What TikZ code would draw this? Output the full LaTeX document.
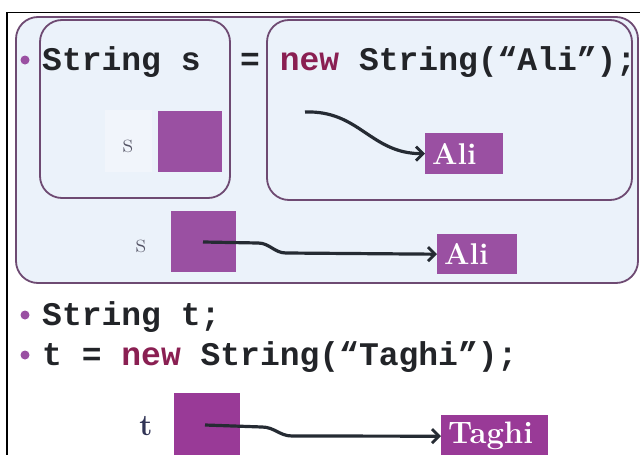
\documentclass[tikz,border=0pt]{standalone}
\usepackage{fontspec}
\setmonofont{Liberation Mono}
\usetikzlibrary{arrows.meta}

\definecolor{panelfill}{HTML}{EBF2FA}
\definecolor{panelline}{HTML}{6E4A72}
\definecolor{cellpurple}{HTML}{9A50A2}
\definecolor{cellmagenta}{HTML}{993A97}
\definecolor{kwcolor}{HTML}{8A1F52}
\definecolor{codeink}{HTML}{222428}
\definecolor{arrowink}{HTML}{252B33}
\definecolor{labelgray}{HTML}{555566}
\definecolor{labelnavy}{HTML}{303355}

\begin{document}
\begin{tikzpicture}[x=1pt,y=-1pt,
  panel/.style={draw=panelline, line width=1.8pt, fill=panelfill, rounded corners=22pt},
  code/.style={anchor=base west, inner sep=0pt, text=codeink,
    font=\ttfamily\bfseries\fontsize{33}{40}\selectfont},
  dot/.style={circle, fill=cellpurple, inner sep=0pt, minimum size=9pt},
  refcell/.style={fill=cellpurple, inner sep=0pt},
  strcell/.style={fill=cellpurple, inner sep=7pt, align=left, text=white,
    font=\bfseries\fontsize{30}{34}\selectfont, anchor=north west},
  varlabel/.style={inner sep=0pt, font=\fontsize{28}{32}\selectfont},
  ptr/.style={draw=arrowink, line width=3.2pt, -{Straight Barb[length=7pt,width=14pt,line width=2.8pt]}}
]
\useasboundingbox (0,0) rectangle (640,455);
\fill[white] (0,0) rectangle (640,455);

% window frame
\draw[black, line width=1.4pt] (7,455) -- (7,12.5) -- (640,12.5);

% scope panels
\draw[panel] (16,17) rectangle (638,283);
\draw[panel] (40,20) rectangle (230,198);
\draw[panel] (267,20) rectangle (632,200);

% code lines
\node[dot] (b1) at (25,60) {};
\node[code] (line1) at (42,70) {String~s~~=~\textcolor{kwcolor}{new}~String(“Ali”);};
\node[dot] (b2) at (25,315) {};
\node[code] (line2) at (42,325) {String~t;};
\node[dot] (b3) at (25,355) {};
\node[code] (line3) at (42,365) {t~=~\textcolor{kwcolor}{new}~String(“Taghi”);};

% first snapshot: declaration and separate object
\fill[white, opacity=0.3] (105,110) rectangle (152,172);
\node[varlabel, text=labelgray] (s1) at (128,146) {s};
\node[refcell, minimum width=64pt, minimum height=61pt, anchor=north west] (r1) at (158,111) {};
\node[strcell, text width=64pt, minimum height=41pt] (ali1) at (425,133) {Ali};
\coordinate (p1) at (305,112);
\draw[ptr] (p1) to[out=2,in=180,looseness=1.1] (ali1.west);

% second snapshot: s refers to the object
\node[varlabel, text=labelgray] (s2) at (141,246) {s};
\node[refcell, minimum width=65pt, minimum height=61pt, anchor=north west] (r2) at (171,211) {};
\node[strcell, text width=66pt, minimum height=40pt] (ali2) at (437,234) {Ali};
\coordinate (p2) at (203,242);
\coordinate (q2) at (258,243);
\coordinate (m2) at (286,253);
\draw[ptr] (p2) -- (q2) to[out=0,in=180] (m2) -- (ali2.west);

% third snapshot: t refers to a new object
\node[varlabel, text=labelnavy, font=\bfseries\fontsize{30}{34}\selectfont] (t1) at (146,426) {t};
\node[refcell, fill=cellmagenta, minimum width=66pt, minimum height=64pt, anchor=north west] (r3) at (174,393) {};
\node[strcell, fill=cellmagenta, text width=93pt, minimum height=42pt, font=\bfseries\fontsize{31}{36}\selectfont] (taghi) at (441,415) {Taghi};
\coordinate (p3) at (205,425);
\coordinate (q3) at (262,427);
\coordinate (m3) at (292,436);
\draw[ptr] (p3) -- (q3) to[out=0,in=180] (m3) -- (taghi.west);
\end{tikzpicture}
\end{document}
